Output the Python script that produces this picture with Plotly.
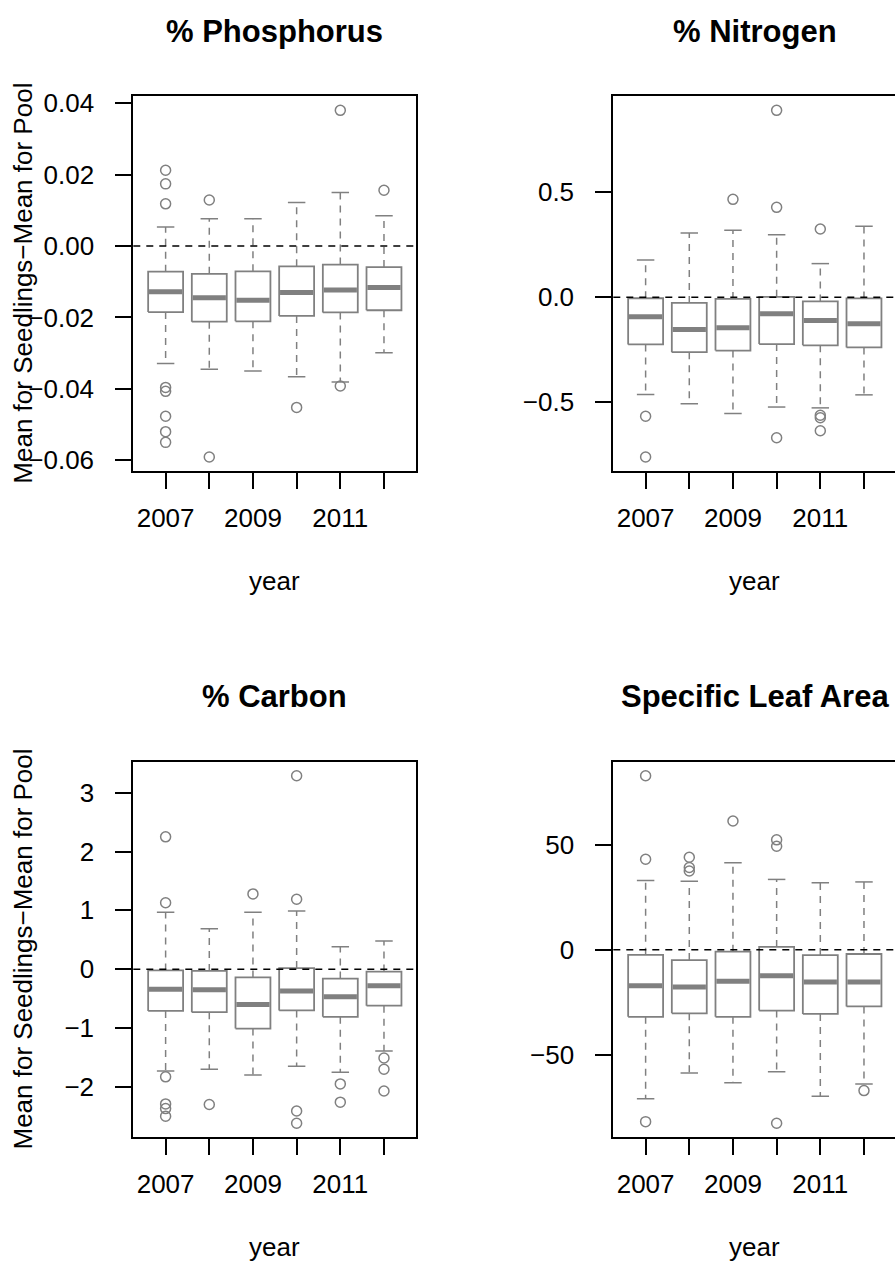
import plotly.graph_objects as go

# ---------------- data ----------------
years = ["2007", "2008", "2009", "2010", "2011", "2012"]
year_ticktext = ["2007", "", "2009", "", "2011", ""]

# % Phosphorus
p_lw = [-0.0329, -0.0345, -0.0350, -0.0366, -0.0381, -0.0299]
p_q1 = [-0.0185, -0.0212, -0.0211, -0.0196, -0.0186, -0.0180]
p_med = [-0.0128, -0.0145, -0.0152, -0.0130, -0.0123, -0.0116]
p_q3 = [-0.0072, -0.0078, -0.0071, -0.0057, -0.0052, -0.0059]
p_uw = [0.0053, 0.0076, 0.0076, 0.0122, 0.0150, 0.0085]
p_out = [[0.0212, 0.0174, 0.0118, -0.0396, -0.0407, -0.0477, -0.0520, -0.0550],
         [0.0129, -0.0591], [], [-0.0452], [0.0380, -0.0392], [0.0156]]
p_ticks = [0.04, 0.02, 0.0, -0.02, -0.04, -0.06]
p_ticktext = ["0.04", "0.02", "0.00", "\u22120.02", "\u22120.04", "\u22120.06"]

# % Nitrogen
n_lw = [-0.463, -0.507, -0.554, -0.523, -0.527, -0.465]
n_q1 = [-0.225, -0.262, -0.254, -0.223, -0.229, -0.239]
n_med = [-0.093, -0.154, -0.145, -0.079, -0.111, -0.127]
n_q3 = [-0.005, -0.027, -0.008, 0.002, -0.020, -0.006]
n_uw = [0.177, 0.306, 0.319, 0.298, 0.160, 0.338]
n_out = [[-0.567, -0.761], [], [0.466], [0.890, 0.428, -0.669],
         [0.325, -0.562, -0.574, -0.636], []]
n_ticks = [0.5, 0.0, -0.5]
n_ticktext = ["0.5", "0.0", "\u22120.5"]

# % Carbon
c_lw = [-1.73, -1.70, -1.80, -1.65, -1.75, -1.39]
c_q1 = [-0.71, -0.73, -1.01, -0.70, -0.81, -0.62]
c_med = [-0.34, -0.35, -0.60, -0.37, -0.47, -0.28]
c_q3 = [-0.02, -0.03, -0.14, 0.02, -0.16, -0.04]
c_uw = [0.97, 0.69, 0.97, 0.99, 0.38, 0.48]
c_out = [[2.25, 1.13, -1.83, -2.29, -2.37, -2.50], [-2.30], [1.28],
         [3.29, 1.19, -2.41, -2.62], [-1.95, -2.26], [-1.51, -1.70, -2.07]]
c_ticks = [3, 2, 1, 0, -1, -2]
c_ticktext = ["3", "2", "1", "0", "\u22121", "\u22122"]

# Specific Leaf Area
s_lw = [-71.1, -58.8, -63.4, -58.2, -69.9, -64.0]
s_q1 = [-32.0, -30.3, -32.0, -29.0, -30.6, -27.0]
s_med = [-17.2, -17.7, -15.0, -12.4, -15.3, -15.4]
s_q3 = [-2.4, -4.9, -0.9, 1.4, -2.5, -2.0]
s_uw = [33.1, 32.7, 41.5, 33.6, 32.0, 32.4]
s_out = [[83.1, 43.2, -82.0], [44.2, 39.3, 37.6], [61.5], [52.5, 49.4, -82.8],
         [], [-67.2]]
s_ticks = [50, 0, -50]
s_ticktext = ["50", "0", "\u221250"]

titles = ["% Phosphorus", "% Nitrogen", "% Carbon", "Specific Leaf Area"]
ylab = "Mean for Seedlings\u2212Mean for Pool"
xlab = "year"

# ---------------- styling / layout ----------------
W, H = 895, 1268
FONT = "Liberation Sans, Arial, Helvetica, sans-serif"
GRAY = "#808080"
BOXWEX = 0.8
STAPLE = 0.5 * BOXWEX
DASH = "7px,6px"

# plot regions in pixels: (left, right, top, bottom)
regions = [
    (133.3, 416.3, 89.3, 467.3),
    (613.3, 896.3, 89.3, 467.3),
    (133.3, 416.3, 761.0, 1140.0),
    (613.3, 896.3, 761.0, 1140.0),
]
XR = (0.26, 6.74)

panels = [
    (p_lw, p_q1, p_med, p_q3, p_uw, p_out, p_ticks, p_ticktext),
    (n_lw, n_q1, n_med, n_q3, n_uw, n_out, n_ticks, n_ticktext),
    (c_lw, c_q1, c_med, c_q3, c_uw, c_out, c_ticks, c_ticktext),
    (s_lw, s_q1, s_med, s_q3, s_uw, s_out, s_ticks, s_ticktext),
]

fig = go.Figure()
layout = dict(
    width=W, height=H, margin=dict(l=0, r=0, t=0, b=0),
    paper_bgcolor="white", plot_bgcolor="white", showlegend=False,
    font=dict(family=FONT, size=26, color="black"),
)
shapes = []
annotations = []

for k, (lw, q1, med, q3, uw, outs, yt, ytt) in enumerate(panels):
    n = k + 1
    xa = "x" if n == 1 else f"x{n}"
    ya = "y" if n == 1 else f"y{n}"
    L, R, T, B = regions[k]
    right_clip = min(R, W)
    xr1 = XR[0] + (XR[1] - XR[0]) * (right_clip - L) / (R - L)

    # y range with R's 4% extension
    allv = list(lw) + list(uw) + [v for o in outs for v in o]
    lo, hi = min(allv), max(allv)
    pad = 0.04 * (hi - lo)

    xs = list(range(1, len(years) + 1))

    # whiskers (dashed)
    wx, wy = [], []
    for i, x in enumerate(xs):
        wx += [x, x, None, x, x, None]
        wy += [q3[i], uw[i], None, q1[i], lw[i], None]
    fig.add_trace(go.Scatter(x=wx, y=wy, mode="lines", xaxis=xa, yaxis=ya,
                             line=dict(color=GRAY, width=1.5, dash=DASH),
                             hoverinfo="skip"))
    # staples
    sx, sy = [], []
    for i, x in enumerate(xs):
        sx += [x - STAPLE / 2, x + STAPLE / 2, None, x - STAPLE / 2, x + STAPLE / 2, None]
        sy += [uw[i], uw[i], None, lw[i], lw[i], None]
    fig.add_trace(go.Scatter(x=sx, y=sy, mode="lines", xaxis=xa, yaxis=ya,
                             line=dict(color=GRAY, width=1.5), hoverinfo="skip"))
    # boxes
    bx, by = [], []
    for i, x in enumerate(xs):
        a, b = x - BOXWEX / 2, x + BOXWEX / 2
        bx += [a, b, b, a, a, None]
        by += [q1[i], q1[i], q3[i], q3[i], q1[i], None]
    fig.add_trace(go.Scatter(x=bx, y=by, mode="lines", xaxis=xa, yaxis=ya,
                             line=dict(color=GRAY, width=1.8), hoverinfo="skip"))
    # medians
    mx, my = [], []
    for i, x in enumerate(xs):
        mx += [x - BOXWEX / 2 + 0.02, x + BOXWEX / 2 - 0.02, None]
        my += [med[i], med[i], None]
    fig.add_trace(go.Scatter(x=mx, y=my, mode="lines", xaxis=xa, yaxis=ya,
                             line=dict(color=GRAY, width=5), hoverinfo="skip"))
    # outliers
    ox, oy = [], []
    for i, x in enumerate(xs):
        for v in outs[i]:
            ox.append(x)
            oy.append(v)
    fig.add_trace(go.Scatter(x=ox, y=oy, mode="markers", xaxis=xa, yaxis=ya,
                             marker=dict(symbol="circle-open", size=10, color=GRAY,
                                         line=dict(width=1.5, color=GRAY)),
                             hoverinfo="skip"))

    xkey = "xaxis" if n == 1 else f"xaxis{n}"
    ykey = "yaxis" if n == 1 else f"yaxis{n}"
    layout[xkey] = dict(
        domain=[L / W, right_clip / W], range=[XR[0], xr1], anchor=ya,
        tickmode="array", tickvals=xs, ticktext=year_ticktext,
        ticks="outside", ticklen=16, tickwidth=2, tickcolor="black",
        showline=True, linecolor="black", linewidth=2, mirror=True,
        showgrid=False, zeroline=False, fixedrange=True,
        tickfont=dict(size=26, family=FONT, color="black"),
        ticklabelstandoff=7,
    )
    layout[ykey] = dict(
        domain=[1 - B / H, 1 - T / H], range=[lo - pad, hi + pad], anchor=xa,
        tickmode="array", tickvals=yt, ticktext=ytt,
        ticks="outside", ticklen=16, tickwidth=2, tickcolor="black",
        showline=True, linecolor="black", linewidth=2,
        mirror=(R <= W),
        showgrid=False, zeroline=False, fixedrange=True,
        tickfont=dict(size=26, family=FONT, color="black"),
        ticklabelstandoff=16,
    )

    # horizontal reference line at zero
    shapes.append(dict(type="line", xref=f"{xa} domain", yref=ya,
                       x0=0, x1=1, y0=0, y1=0,
                       line=dict(color="black", width=1.6, dash=DASH)))

    cx = (L + R) / 2
    title_y = T - 66
    annotations.append(dict(text=f"<b>{titles[k]}</b>", xref="paper", yref="paper",
                            x=cx / W, y=1 - title_y / H, xanchor="center",
                            yanchor="middle", showarrow=False,
                            font=dict(size=31, family=FONT, color="black")))
    annotations.append(dict(text=xlab, xref="paper", yref="paper",
                            x=cx / W, y=1 - (B + 111) / H, xanchor="center",
                            yanchor="middle", showarrow=False,
                            font=dict(size=26, family=FONT, color="black")))
    if n in (1, 3):
        annotations.append(dict(text=ylab, xref="paper", yref="paper",
                                x=23 / W, y=1 - ((T + B) / 2) / H, xanchor="center",
                                yanchor="middle", showarrow=False, textangle=-90,
                                font=dict(size=26, family=FONT, color="black")))

layout["shapes"] = shapes
layout["annotations"] = annotations
fig.update_layout(**layout)
fig.write_html("out.html", config={"displayModeBar": False})
